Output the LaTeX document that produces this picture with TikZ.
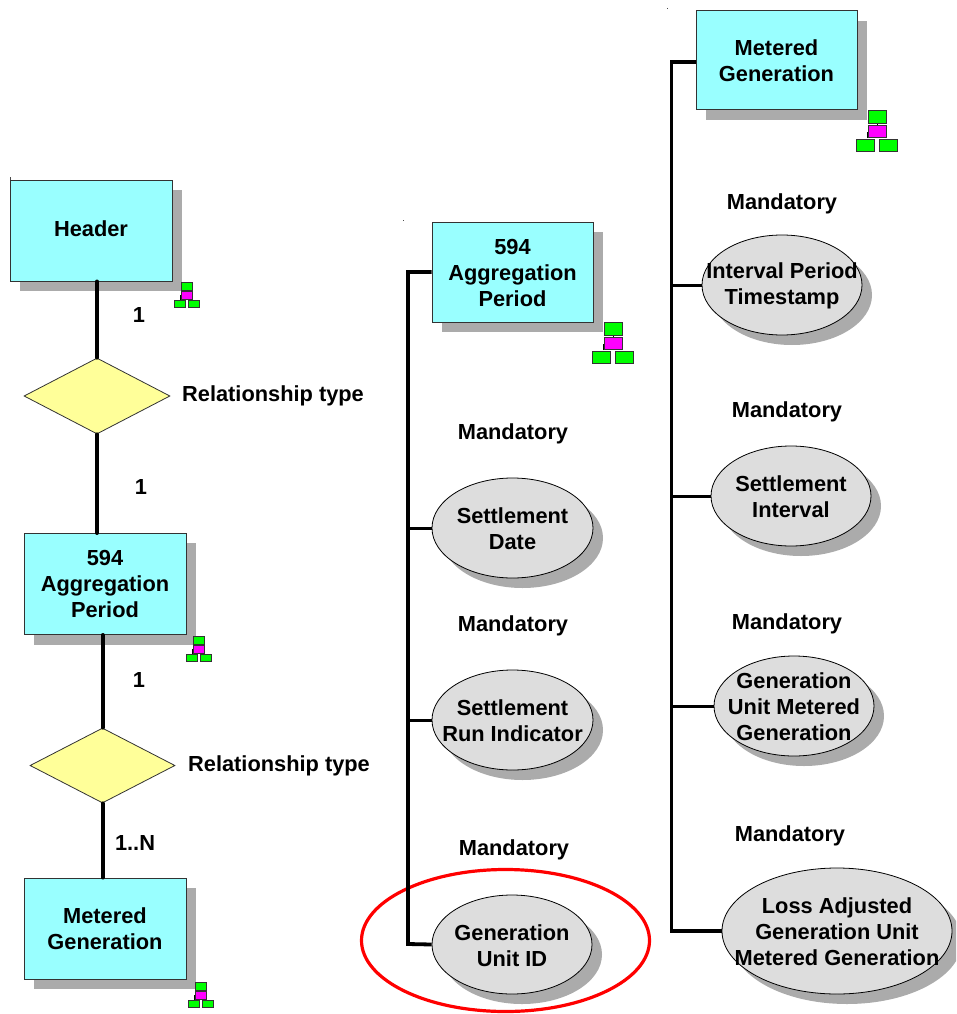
\documentclass[tikz,border=0pt]{standalone}
\usepackage{fontspec}
\setmainfont{Liberation Sans}
\usetikzlibrary{shapes.geometric}
\definecolor{entfill}{HTML}{99FFFF}
\definecolor{attfill}{HTML}{DDDDDD}
\definecolor{relfill}{HTML}{FFFF99}
\definecolor{shadowc}{HTML}{ABABAB}
\definecolor{icong}{HTML}{00FF00}
\definecolor{iconm}{HTML}{FF00FF}
\definecolor{edgec}{HTML}{333333}
\tikzset{
  lab/.style={font=\fontsize{21.8}{26}\selectfont\bfseries, align=center, inner sep=0pt, text=black},
  entity/.style={lab, rectangle, draw=edgec, line width=1pt, fill=entfill, minimum width=#1, minimum height=101pt, inner sep=0pt},
  attr/.style n args={3}{ellipse, draw=black, line width=0.8pt, fill=attfill, minimum width=#1, minimum height=#2, inner sep=0pt, label={[lab, yshift=-0.7pt]center:#3}},
  rel/.style={diamond, draw=edgec, line width=0.8pt, fill=relfill, minimum width=146pt, minimum height=76pt, inner sep=0pt},
  heavy/.style={line width=4pt, black, line cap=round},
  medium/.style={line width=3pt, black},
  busline/.style={line width=3.8pt, black, line join=miter},
  iconbox/.style={draw=edgec, line width=0.9pt},
  speck/.style={line width=0.5pt, black!70}
}
\newcommand{\orgicon}[3]{%
  \begin{scope}[shift={(#1,#2)}, x=#3pt, y=-#3pt]
    \draw[black, line width=0.9pt] (20.5,14) -- (20.5,16) (11,28) -- (11,22) -- (16,22) (25,22) -- (30,22) -- (30,28);
    \draw[iconbox, fill=icong] (11.5,0) rectangle (29.5,13.5);
    \draw[iconbox, fill=iconm] (11.5,15) rectangle (29.5,27.5);
    \draw[iconbox, fill=icong] (0,29) rectangle (18,41);
    \draw[iconbox, fill=icong] (23,29) rectangle (41,41);
  \end{scope}}
\begin{document}
\begin{tikzpicture}[x=1pt,y=-1pt]
\useasboundingbox (0,0) rectangle (956,1014);
\clip (0,0) rectangle (956,1014);
% shadows
\foreach \xa/\ya/\xb/\yb in {20/190/182/291, 34/543/196/645, 34/888/196/989, 442/232/603/332, 706/21/867/120}
  \fill[shadowc] (\xa,\ya) rectangle (\xb,\yb);
\foreach \cx/\cy/\rx/\ry in {522.5/538/80.5/50, 522.5/730/80.5/50, 522/954.5/80/49.5, 792/295/80/50, 801/506/80/50, 804/716/80/50, 847/941/115/63}
  \fill[shadowc] (\cx,\cy) ellipse [x radius=\rx, y radius=\ry];
% nodes
\node[entity=162pt] (hdr) at (91,230.5) {\raisebox{3pt}{Header}};
\node[rel] (d1) at (97,396) {};
\node[entity=162pt] (p1) at (105,584) {\raisebox{0pt}{594}\\Aggregation\\Period};
\node[rel, minimum width=145pt, minimum height=75pt] (d2) at (102.5,765.5) {};
\node[entity=162pt] (mg1) at (105,928.5) {Metered\\Generation};
\node[entity=161pt, minimum height=100pt] (p2) at (512.5,272.5) {594\\Aggregation\\Period};
\node[entity=161pt, minimum height=99pt] (mg2) at (776.5,60.5) {Metered\\Generation};
\node[attr={161pt}{100pt}{Settlement\\Date}] (a1) at (512.5,528) {};
\node[attr={161pt}{100pt}{Settlement\\Run Indicator}] (a2) at (512.5,720) {};
\node[attr={160pt}{99pt}{Generation\\Unit ID}] (a3) at (512,944.5) {};
\node[attr={160pt}{100pt}{Interval Period\\Timestamp}] (b1) at (782,285) {};
\node[attr={160pt}{100pt}{Settlement\\Interval}] (b2) at (791,496) {};
\node[attr={160pt}{100pt}{Generation\\Unit Metered\\Generation}] (b3) at (794,706) {};
\node[attr={230pt}{126pt}{Loss Adjusted\\Generation Unit\\Metered Generation}] (b4) at (837,931) {};
\node[ellipse, draw=red, line width=3.2pt, minimum width=288pt, minimum height=142pt, inner sep=0pt] (hl) at (505.5,940.5) {};
% tree buses
\coordinate (bus1top) at (408,272);
\coordinate (bus1bot) at (408,944);
\coordinate (bus2top) at (671.5,62);
\coordinate (bus2bot) at (671.5,931);
% connectors
\draw[heavy] (d1.north |- hdr.south) -- (d1.north);
\draw[heavy] (d1.south) -- (d1.south |- p1.north);
\draw[heavy] (d2.north |- p1.south) -- (d2.north);
\draw[heavy] (d2.south) -- (d2.south |- mg1.north);
\draw[busline] (p2.west |- bus1top) -- (bus1top) -- (bus1bot) -- (a3.west);
\draw[medium] (bus1top |- a1.west) -- (a1.west);
\draw[medium] (bus1top |- a2.west) -- (a2.west);
\draw[busline] (mg2.west |- bus2top) -- (bus2top) -- (bus2bot) -- (b4.west);
\draw[medium] (bus2top |- b1.west) -- (b1.west);
\draw[medium] (bus2top |- b2.west) -- (b2.west);
\draw[medium] (bus2top |- b3.west) -- (b3.west);
% labels
\node[lab] (l1) at (139,315) {1};
\node[lab] (l2) at (141,487) {1};
\node[lab] (l3) at (139,680) {1};
\node[lab] (l4) at (135,843) {1..N};
\node[lab] (r1) at (273,396) {Relationship type};
\node[lab] (r2) at (279,766) {Relationship type};
\node[lab] (m1) at (513,434) {Mandatory};
\node[lab] (m2) at (513,626) {Mandatory};
\node[lab] (m3) at (514,850) {Mandatory};
\node[lab] (m4) at (782,204) {Mandatory};
\node[lab] (m5) at (787,412) {Mandatory};
\node[lab] (m6) at (787,624) {Mandatory};
\node[lab] (m7) at (790,836) {Mandatory};
% icons
\orgicon{174}{282}{0.63}
\orgicon{186}{636}{0.63}
\orgicon{188}{982}{0.63}
\orgicon{592.5}{322}{1}
\orgicon{856.5}{110}{1}
% specks
\draw[speck] (10,177) -- (10,180);
\draw[speck] (403,220) -- (403,221);
\draw[speck] (667,8) -- (667,9);
\end{tikzpicture}
\end{document}
